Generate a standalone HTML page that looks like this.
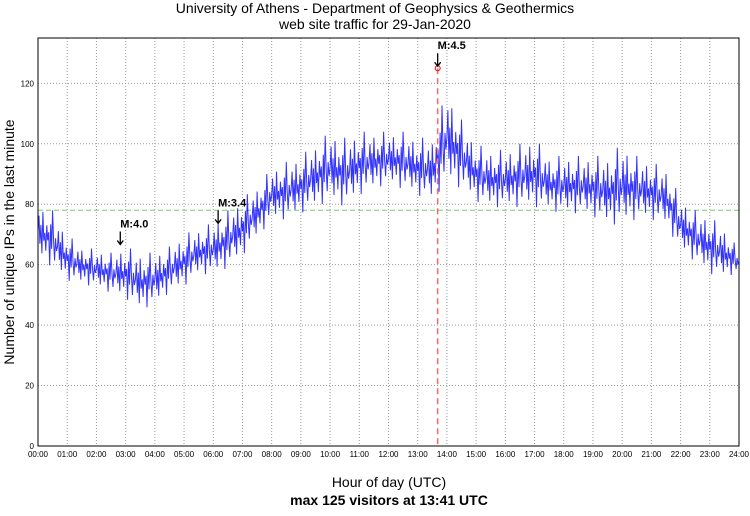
<!DOCTYPE html>
<html><head><meta charset="utf-8"><style>
body{margin:0;background:#fff;font-family:"Liberation Sans",sans-serif}
</style></head><body>
<svg width="750" height="511" font-family="Liberation Sans, sans-serif">
<text x="375" y="13" text-anchor="middle" font-size="14">University of Athens - Department of Geophysics &amp; Geothermics</text>
<text x="375" y="29" text-anchor="middle" font-size="14">web site traffic for 29-Jan-2020</text>
<g id="grid"></g>
<g id="series"></g>
<g id="marks"></g>
<rect x="38" y="38" width="701" height="408" fill="none" stroke="#000"/>
<text transform="translate(14,242) rotate(-90)" text-anchor="middle" font-size="14">Number of unique IPs in the last minute</text>
<text x="389" y="487" text-anchor="middle" font-size="14">Hour of day (UTC)</text>
<text x="389" y="505" text-anchor="middle" font-size="14" font-weight="bold">max 125 visitors at 13:41 UTC</text>
</svg>
<script>
const hours=[0,0.5,1,1.5,2,2.5,3,3.5,4,4.5,5,5.5,6,6.5,7,7.5,8,8.5,9,9.5,10,10.5,11,11.5,12,12.5,13,13.5,14,14.5,15,15.5,16,16.5,17,17.5,18,18.5,19,19.5,20,20.5,21,21.5,22,22.5,23,23.5,24];
const lows=[62,58,54,53,52,50,48,44,46,50,52,56,56,58,62,68,74,74,76,78,80,78,82,84,86,84,82,80,86,84,80,78,78,78,78,77,76,76,75,72,72,74,74,72,64,60,56,55,57];
const highs=[80,78,70,66,65,64,66,64,64,66,70,72,74,78,82,86,92,94,96,100,104,102,104,104,104,104,102,102,118,108,100,98,98,100,102,96,96,96,96,96,100,96,94,92,82,78,76,72,65];
const yTicks=[0,20,40,60,80,100,120];
const avgLine=78;
const maxValue=125, maxTime=13+41/60;
const quakes=[{t:2+49/60,label:"M:4.0",v:66},{t:6+10/60,label:"M:3.4",v:73},{t:maxTime,label:"M:4.5",v:maxValue}];
const NS="http://www.w3.org/2000/svg";
const X0=38,X1=739,Y0=446,YMAX=135,PH=408;
const xs=h=>X0+h/24*(X1-X0);
const ys=v=>Y0-v/YMAX*PH;
function mk(tag,attrs,parent){const e=document.createElementNS(NS,tag);for(const k in attrs)e.setAttribute(k,attrs[k]);parent.appendChild(e);return e;}
const grid=document.getElementById('grid'),series=document.getElementById('series'),marks=document.getElementById('marks');
for(const v of yTicks){
  const g=mk('line',{x1:X0,x2:X1,y1:ys(v),y2:ys(v),stroke:'#999','stroke-dasharray':'1,2'},grid);
  
  
  const t=mk('text',{x:X0-4,y:ys(v)+3,'text-anchor':'end','font-size':8},grid);
  t.textContent=v;
  
  
}
for(let h=0;h<=24;h++){
  const g=mk('line',{x1:xs(h),x2:xs(h),y1:38,y2:Y0,stroke:'#999','stroke-dasharray':'1,2'},grid);
  
  
  const t=mk('text',{x:xs(h),y:457,'text-anchor':'middle','font-size':8},grid);
  t.textContent=(h<10?'0':'')+h+':00';
  
  
}
const al=mk('line',{x1:X0,x2:X1,y1:ys(avgLine),y2:ys(avgLine),stroke:'#7c7','stroke-dasharray':'5,3'},grid);


const fr=[0.5,0.8,0.3,0.65,0.15,0.9,0.4,0.55,0.25,0.7,0.45,0.6,0.05,0.75,0.35,1.0,0.5,0.2,0.6,0.4];
let pts=[];
for(let m=0,i=0;m<=1440;m+=2,i++){
  const h=m/60;let k=Math.min(Math.floor(h/0.5),hours.length-2);
  const f=(h-hours[k])/(hours[k+1]-hours[k]);
  const lo=lows[k]+(lows[k+1]-lows[k])*f,hi=highs[k]+(highs[k+1]-highs[k])*f;
  const v=lo+(hi-lo)*fr[i%fr.length];
  pts.push(xs(h).toFixed(1)+','+ys(v).toFixed(1));
}
const pl=mk('polyline',{points:pts.join(' '),fill:'none',stroke:'#00f','stroke-width':1,'stroke-opacity':0.8},series);


const rl=mk('line',{x1:xs(maxTime),x2:xs(maxTime),y1:ys(maxValue),y2:Y0,stroke:'#f66','stroke-width':1.5,'stroke-dasharray':'6,4'},marks);


const mc=mk('circle',{cx:xs(maxTime),cy:ys(maxValue),r:2.5,fill:'none',stroke:'#f00'},marks);


for(const q of quakes){
  const x=xs(q.t),yt=ys(q.v)-2;
  const a=mk('path',{d:`M${x},${yt-13} L${x},${yt} M${x-3},${yt-4} L${x},${yt} L${x+3},${yt-4}`,fill:'none',stroke:'#000','stroke-width':1.3},marks);
  
  
  const t=mk('text',{x:x,y:yt-17,'font-size':11,'font-weight':'bold'},marks);
  t.textContent=q.label;
  
  
}
</script>
</body></html>
